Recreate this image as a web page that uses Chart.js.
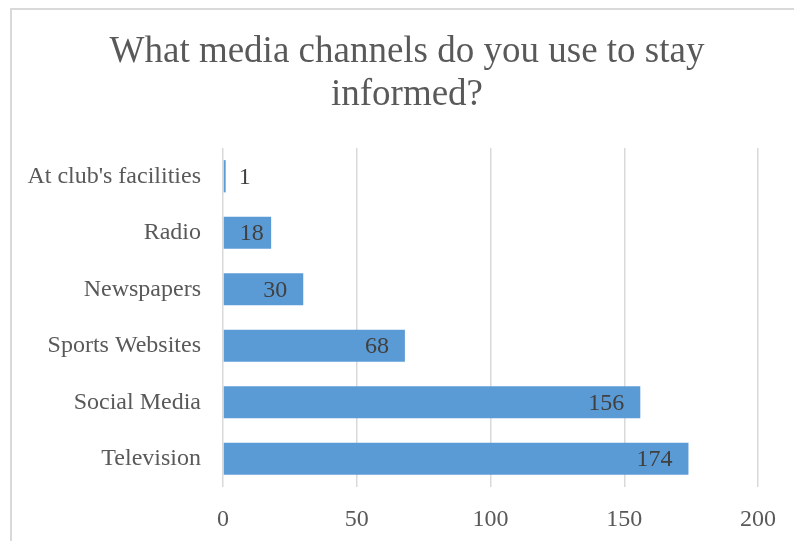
<!DOCTYPE html>
<html>
<head>
<meta charset="utf-8">
<script src="https://cdn.jsdelivr.net/npm/chart.js@4.4.1/dist/chart.umd.min.js"></script>
<style>
  body { margin: 0; background: #fff; overflow: hidden; }
  #wrap { position: relative; width: 794px; height: 541px; }
  #frame {
    position: absolute; left: 10px; top: 8px; width: 820px; height: 600px;
    border-left: 2px solid #d9d9d9; border-top: 2px solid #d9d9d9;
  }
  #chart { position: absolute; left: 0; top: 0; }
</style>
</head>
<body>
<div id="wrap">
  <div id="frame"></div>
  <canvas id="chart" width="794" height="541"></canvas>
</div>
<script>
const channels = ["At club's facilities", "Radio", "Newspapers", "Sports Websites", "Social Media", "Television"];
const responses = [1, 18, 30, 68, 156, 174];
const axisTicks = [0, 50, 100, 150, 200];
const titleLines = ['What media channels do you use to stay', 'informed?'];

const serif = '"Liberation Serif", "Times New Roman", serif';

// title centred on the whole chart frame, not just the plot width
const frameTitle = {
  id: 'frameTitle',
  afterDraw(chart) {
    const { ctx } = chart;
    ctx.save();
    ctx.font = '37px ' + serif;
    ctx.fillStyle = '#595959';
    ctx.textAlign = 'center';
    ctx.textBaseline = 'alphabetic';
    titleLines.forEach((line, i) => ctx.fillText(line, 407, 62 + i * 43));
    ctx.restore();
  }
};

// value labels at the inside end of each bar, pushed outside when the bar is too short
const barValueLabels = {
  id: 'barValueLabels',
  afterDatasetsDraw(chart) {
    const { ctx } = chart;
    const meta = chart.getDatasetMeta(0);
    ctx.save();
    ctx.font = '24px ' + serif;
    ctx.fillStyle = '#404040';
    ctx.textBaseline = 'middle';
    meta.data.forEach((bar, i) => {
      const text = String(responses[i]);
      const w = ctx.measureText(text).width;
      const start = bar.base;
      if (bar.x - start > w + 20) {
        ctx.textAlign = 'right';
        ctx.fillText(text, Math.max(bar.x - 16, start + 16 + w), bar.y + 1);
      } else {
        ctx.textAlign = 'left';
        ctx.fillText(text, bar.x + 13, bar.y + 1);
      }
    });
    ctx.restore();
  }
};

new Chart(document.getElementById('chart'), {
  type: 'bar',
  data: {
    labels: channels,
    datasets: [{
      data: responses,
      backgroundColor: '#5b9bd5',
      borderWidth: 0,
      categoryPercentage: 1,
      barPercentage: 0.57,
    }],
  },
  options: {
    indexAxis: 'y',
    responsive: false,
    animation: false,
    devicePixelRatio: 1,
    layout: { padding: { top: 148, left: 12, right: 35, bottom: 0 } },
    plugins: {
      legend: { display: false },
      tooltip: { enabled: false },
      title: { display: false },
    },
    scales: {
      x: {
        min: 0,
        max: 200,
        afterBuildTicks: (scale) => { scale.ticks = axisTicks.map(v => ({ value: v })); },
        afterFit: (scale) => { scale.height = 54; },
        grid: { color: '#d9d9d9', lineWidth: 1.5, drawTicks: false },
        border: { display: false },
        ticks: {
          color: '#595959',
          font: { family: serif, size: 24 },
          padding: 18,
          maxRotation: 0,
        },
      },
      y: {
        afterFit: (scale) => { scale.width = 211; },
        grid: { display: false, drawTicks: false },
        border: { display: false },
        ticks: {
          color: '#595959',
          font: { family: serif, size: 24 },
          padding: 22,
        },
      },
    },
  },
  plugins: [barValueLabels, frameTitle],
});
</script>
</body>
</html>
